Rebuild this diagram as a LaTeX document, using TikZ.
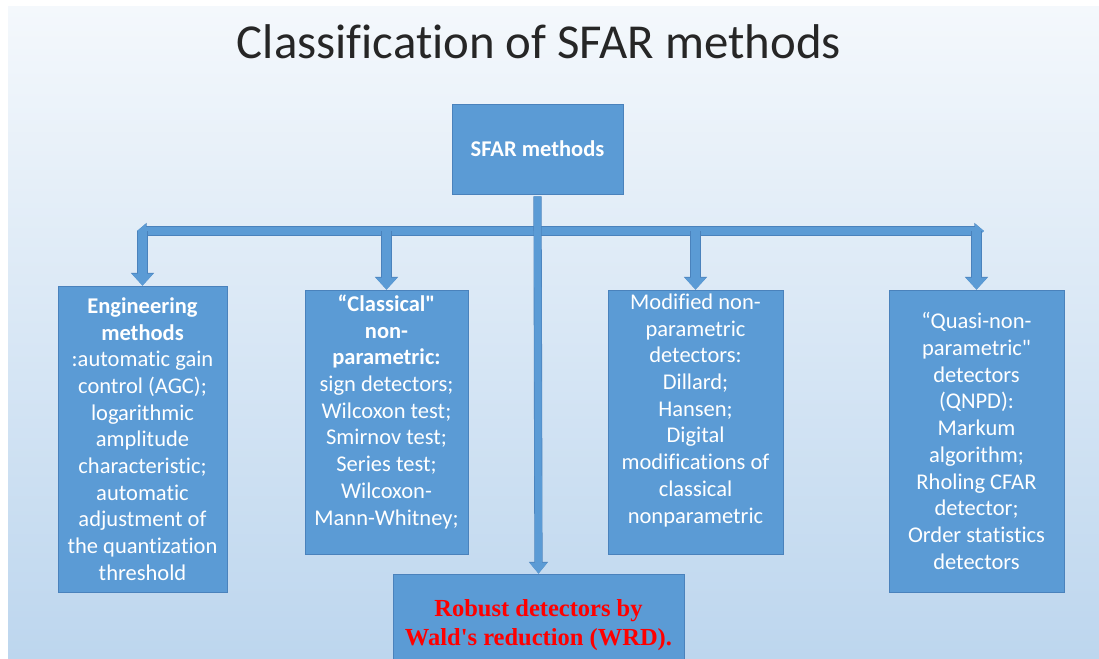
\documentclass[tikz,border=0pt]{standalone}
\usepackage{fontspec}
\setmainfont{Carlito}[Ligatures={TeXOff,NoCommon}]
\newfontfamily\wrdserif[Ligatures=TeXOff]{Liberation Serif}
\usetikzlibrary{arrows.meta,calc}

\definecolor{bgtop}{HTML}{F4F8FC}
\definecolor{bgbot}{HTML}{BDD6EE}
\definecolor{boxfill}{HTML}{5B9BD5}
\definecolor{boxedge}{HTML}{4A82BC}
\definecolor{titleink}{HTML}{262626}
\definecolor{wrdred}{HTML}{FF0000}

\newcommand\boxfont{\fontsize{22.5}{26.7}\selectfont}
\newcommand\wrdfont{\wrdserif\bfseries\fontsize{24.5}{29}\selectfont}

\begin{document}
\begin{tikzpicture}[x=1pt,y=-1pt,
  box/.style={draw=boxedge, line width=0.75pt, fill=boxfill, inner sep=0pt,
    text=white, align=center, font=\boxfont},
  boxtext/.style={inner sep=0pt, text=white, align=center, font=\boxfont},
  bus/.style={draw=boxfill, line width=8pt,
    {Triangle[length=9pt,width=14pt]}-{Triangle[length=9pt,width=14pt]},
    preaction={draw=boxedge, line width=9.2pt,
      {Triangle[length=9.6pt,width=15.6pt]}-{Triangle[length=9.6pt,width=15.6pt]}}},
  drop/.style={draw=boxfill, line width=9pt, -{Triangle[length=12pt,width=21pt]},
    preaction={draw=boxedge, line width=10.2pt, -{Triangle[length=12.8pt,width=22.6pt]}}},
  trunk/.style={draw=boxfill, line width=7pt, -{Triangle[length=11pt,width=17pt]},
    preaction={draw=boxedge, line width=8.2pt, -{Triangle[length=11.8pt,width=18.6pt]}}},
]
% page and soft blue backdrop
\fill[white] (0,0) rectangle (1099,658);
\shade[top color=bgtop, bottom color=bgbot] (8,7) rectangle (1099,658);
\useasboundingbox (0,0) rectangle (1099,658);

% heading
\node[font=\fontsize{48.8}{52}\selectfont, text=titleink, anchor=base, inner sep=0pt]
  (title) at (539,59) {Classification of SFAR methods};

% root
\node[box, minimum width=171pt, minimum height=90pt] (sfar) at (537.5,149)
  {\textbf{SFAR methods}};

% branches
\node[box, minimum width=169pt, minimum height=306pt] (eng) at (142.5,439)
  {\textbf{Engineering}\\ \textbf{methods}\\ :automatic gain\\ control (AGC);\\
   logarithmic\\ amplitude\\ characteristic;\\ automatic\\ adjustment of\\
   the quantization\\ threshold};

\node[box, minimum width=163pt, minimum height=264pt] (cls) at (386.5,422) {};
\node[boxtext, anchor=north] (clsT) at ([yshift=-5pt]cls.north)
  {\textbf{“Classical"}\\ \textbf{non-}\\ \textbf{parametric:}\\ sign detectors;\\
   Wilcoxon test;\\ Smirnov test;\\ Series test;\\ Wilcoxon-\\ Mann-Whitney;};

\node[box, minimum width=175pt, minimum height=264pt] (mod) at (695.5,422) {};
\node[boxtext, anchor=north] (modT) at ([yshift=-4pt]mod.north)
  {Modified non-\\ parametric\\ detectors:\\ Dillard;\\ Hansen;\\ Digital\\
   modifications of\\ classical\\ nonparametric};

\node[box, minimum width=175pt, minimum height=302pt] (qnpd) at (976.5,441)
  {“Quasi-non-\\ parametric"\\ detectors\\ (QNPD):\\ Markum\\ algorithm;\\
   Rholing CFAR\\ detector;\\ Order statistics\\ detectors};

\node[box, minimum width=291pt, minimum height=102pt, font=\wrdfont, text=wrdred]
  (wrd) at (538.5,625) {Robust detectors by\\ Wald's reduction (WRD).};

% distribution bus and drops
\coordinate (busL) at (137,231);
\coordinate (busR) at (984,231);
\draw[bus] (busL) -- (busR);
\draw[drop] (eng.north |- busL) -- (eng.north);
\draw[drop] (cls.north |- busL) -- (cls.north);
\draw[drop] (mod.north |- busL) -- (mod.north);
\draw[drop] (qnpd.north |- busL) -- (qnpd.north);

% central trunk to the robust detectors
\draw[trunk] ([yshift=-2pt]sfar.south) -- (wrd.north);
\end{tikzpicture}
\end{document}
